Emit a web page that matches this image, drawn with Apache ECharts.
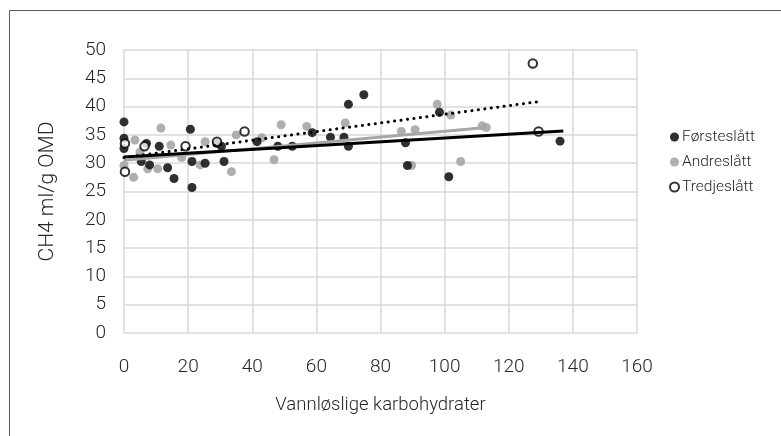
<!DOCTYPE html>
<html>
<head>
<meta charset="utf-8">
<script src="https://cdn.jsdelivr.net/npm/echarts@6/dist/echarts.min.js"></script>
<style>
  html, body { margin: 0; padding: 0; background: #fff; }
  #chart { width: 781px; height: 436px; }
</style>
</head>
<body>
<div id="chart"></div>
<script>
// Scatter of methane yield against water-soluble carbohydrates, per harvest
const forsteslatt = [
  [0, 37.3], [20.7, 36.0], [0, 32.6], [0, 34.4], [7, 33.5], [11, 33], [29, 33.5], [30.4, 33],
  [5.4, 30.3], [8, 29.7], [13.6, 29.2], [15.6, 27.3], [21.2, 25.7], [21.2, 30.3], [25.3, 30],
  [31.2, 30.3], [41.5, 33.8], [48, 33], [52.5, 33], [58.7, 35.4], [64.4, 34.6], [68.6, 34.6],
  [70, 40.4], [74.8, 42.1], [70, 33], [87.8, 33.6], [88.4, 29.6], [98.4, 39], [101.3, 27.6], [136, 33.9]
];
const andreslatt = [
  [11.5, 36.2], [3.4, 34.1], [14.6, 33.2], [25.3, 33.8], [35, 35], [0, 29.6], [3, 27.5],
  [7.4, 29], [10.5, 29], [23.8, 29.7], [33.5, 28.5], [43, 34.5], [46.8, 30.6], [49, 36.8],
  [57, 36.5], [69, 37.1], [86.5, 35.6], [89.7, 29.6], [90.8, 35.9], [97.7, 40.4], [101.9, 38.5],
  [105, 30.3], [111.7, 36.6], [113, 36.3], [5, 32], [18, 31]
];
const tredjeslatt = [
  [0.3, 33.5], [6.4, 33], [19.2, 33], [37.6, 35.6], [0.3, 28.5], [127.5, 47.6], [129.3, 35.6], [29, 33.8]
];
// Linear trend lines (start and end points)
const forsteTrend = [[0, 31.1], [137, 35.7]];
const andreTrend = [[0, 30.5], [113, 36.3]];
const tredjeTrend = [[0, 31.0], [129.6, 40.9]];

const seriesNames = ['Førsteslått', 'Andreslått', 'Tredjeslått'];
const xTitle = 'Vannløslige karbohydrater';
const yTitle = 'CH4 ml/g OMD';

const FONT = 'Roboto';
const TEXT = '#262626';
const GRID = '#d9d9d9';

const chart = echarts.init(document.getElementById('chart'), null, { renderer: 'canvas' });
chart.setOption({
  animation: false,
  backgroundColor: '#fff',
  graphic: [{
    type: 'rect', silent: true, z: -1,
    shape: { x: 9.5, y: 10.5, width: 900, height: 600 },
    style: { fill: 'none', stroke: '#595959', lineWidth: 1 }
  }],
  grid: { left: 124, top: 50, width: 513, height: 283 },
  legend: {
    data: seriesNames,
    orient: 'vertical',
    left: 664, top: 124,
    itemWidth: 9, itemHeight: 9, itemGap: 9,
    textStyle: { fontFamily: FONT, fontWeight: 300, fontSize: 15.5, color: TEXT, padding: [0, 0, 0, -2] }
  },
  xAxis: {
    type: 'value', min: 0, max: 160, interval: 20,
    name: xTitle, nameLocation: 'middle', nameGap: 63,
    nameTextStyle: { fontFamily: FONT, fontWeight: 300, fontSize: 18.5, color: TEXT },
    axisLine: { show: false }, axisTick: { show: false },
    axisLabel: { margin: 25, fontFamily: FONT, fontWeight: 300, fontSize: 19, color: TEXT },
    splitLine: { show: true, lineStyle: { color: GRID, width: 1.5 } }
  },
  yAxis: {
    type: 'value', min: 0, max: 50, interval: 5,
    name: yTitle, nameLocation: 'middle', nameGap: 66, nameRotate: 90,
    nameTextStyle: { fontFamily: FONT, fontWeight: 300, fontSize: 21, color: TEXT },
    axisLine: { show: false }, axisTick: { show: false },
    axisLabel: { margin: 18, fontFamily: FONT, fontWeight: 300, fontSize: 19, color: TEXT },
    splitLine: { show: true, lineStyle: { color: GRID, width: 1.5 } }
  },
  series: [
    {
      name: 'Førsteslått trend', type: 'line', data: forsteTrend, symbol: 'none', z: 4,
      lineStyle: { color: '#000', width: 3 }
    },
    {
      name: 'Andreslått trend', type: 'line', data: andreTrend, symbol: 'none', z: 3,
      lineStyle: { color: '#a6a6a6', width: 3 }
    },
    {
      name: 'Tredjeslått trend', type: 'line', data: tredjeTrend, symbol: 'none', z: 5,
      lineStyle: { color: '#000', width: 3, type: [0.1, 6.4], cap: 'round' }
    },
    {
      name: seriesNames[1], type: 'scatter', data: andreslatt, symbol: 'circle', symbolSize: 9, z: 2,
      itemStyle: { color: '#a6a6a6', opacity: 0.9 }
    },
    {
      name: seriesNames[0], type: 'scatter', data: forsteslatt, symbol: 'circle', symbolSize: 9, z: 2,
      itemStyle: { color: '#1a1a1a', opacity: 0.9 }
    },
    {
      name: seriesNames[2], type: 'scatter', data: tredjeslatt, symbol: 'circle', symbolSize: 8.5, z: 2,
      itemStyle: { color: '#fff', borderColor: '#000', borderWidth: 2 }
    }
  ]
});
</script>
</body>
</html>
